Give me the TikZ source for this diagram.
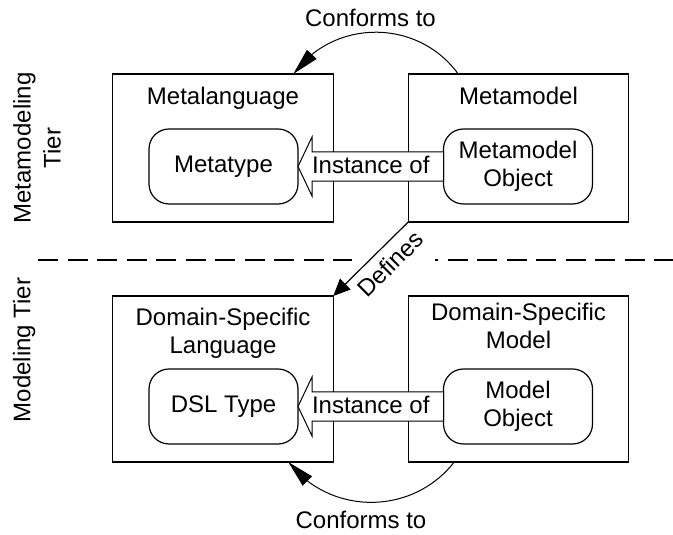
\documentclass[tikz,border=0pt]{standalone}
\usepackage{fontspec}
\setmainfont{Liberation Sans}
\usetikzlibrary{arrows.meta,calc,bending}
\begin{document}
\begin{tikzpicture}[x=1pt,y=1pt,
  every node/.style={font=\fontsize{24}{28}\selectfont, inner sep=0pt, outer sep=0pt},
  tierbox/.style={draw, line width=1.3pt, minimum width=220.5pt},
  typebox/.style={draw, line width=1.2pt, rounded corners=20pt, minimum width=149pt, minimum height=75pt, align=center},
  titletext/.style={anchor=north, align=center},
  blockarrow/.style={draw, fill=white, line width=1pt, line join=miter},
  tierline/.style={line width=2.6pt},
  conf/.style={line width=1pt, -{Triangle[length=27pt, width=13pt, flex]}},
  defline/.style={line width=1.2pt, -{Triangle[length=17pt, width=15pt]}}
]
\fill[white] (0,0) rectangle (673,535);
\useasboundingbox (0,0) rectangle (673,535);

% tier boxes
\node[tierbox, minimum height=148pt] (ml) at (223,387) {};
\node[tierbox, minimum height=148pt] (mm) at (518.5,387) {};
\node[tierbox, minimum height=166pt] (dsl) at (223,156) {};
\node[tierbox, minimum height=166pt] (dsm) at (518.5,156) {};

% titles
\node[titletext] (mlt) at (223,447.5) {Metalanguage};
\node[titletext] (mmt) at (518.5,447.5) {Metamodel};
\node[titletext] (dslt) at (223,226.5) {Domain-Specific\\Language};
\node[titletext] (dsmt) at (518.5,231.5) {Domain-Specific\\Model};

% inner types
\node[typebox] (mt) at (223.5,368.5) {Metatype};
\node[typebox] (mmo) at (518,368.5) {Metamodel\\Object};
\node[typebox] (dt) at (223.5,128.5) {DSL Type};
\node[typebox] (mo) at (518,128.5) {Model\\Object};

% block arrows "Instance of"
\draw[blockarrow] ($(mmo.west)+(0,14.7)$) -- ($(mt.east)+(14,14.7)$) -- ($(mt.east)+(14,29.5)$) -- (mt.east) -- ($(mt.east)+(14,-29.5)$) -- ($(mt.east)+(14,-14.7)$) -- ($(mmo.west)+(0,-14.7)$) -- cycle;
\node[yshift=2pt] (io1) at ($(mt.east)!0.5!(mmo.west)$) {Instance of};

\draw[blockarrow] ($(mo.west)+(0,14.7)$) -- ($(dt.east)+(14,14.7)$) -- ($(dt.east)+(14,29.5)$) -- (dt.east) -- ($(dt.east)+(14,-29.5)$) -- ($(dt.east)+(14,-14.7)$) -- ($(mo.west)+(0,-14.7)$) -- cycle;
\node[yshift=2pt] (io2) at ($(dt.east)!0.5!(mo.west)$) {Instance of};

% tier divider
\coordinate (dA) at (38,275);
\coordinate (dB) at (352,275);
\coordinate (dC) at (435,275);
\coordinate (dD) at (673,275);
\draw[tierline, dash pattern=on 20pt off 9.5pt] (dA) -- (dB);
\draw[tierline, dash pattern=on 20pt off 9.5pt, dash phase=17pt] (dC) -- (dD);

% conforms-to arcs
\draw[conf] ([xshift=50pt]mm.north west) to[bend right=54, looseness=1.07] ([xshift=-40pt]ml.north east);
\node[anchor=base] (c1) at (370.5,508) {Conforms to};
\draw[conf] ([xshift=46pt]dsm.south west) to[bend left=52, looseness=1.055] ([xshift=-45pt]dsl.south east);
\node[anchor=base] (c2) at (361,6) {Conforms to};

% defines
\draw[defline] (mm.south west) -- node[xshift=19.5pt, yshift=-5pt, rotate=45] (deflbl) {Defines} (dsl.north east);

% tier labels
\node[rotate=90, align=center, font=\fontsize{24}{30}\selectfont] (mtier) at (37,387) {Metamodeling\\Tier};
\node[rotate=90] (mdtier) at (24.25,185) {Modeling Tier};
\end{tikzpicture}
\end{document}
